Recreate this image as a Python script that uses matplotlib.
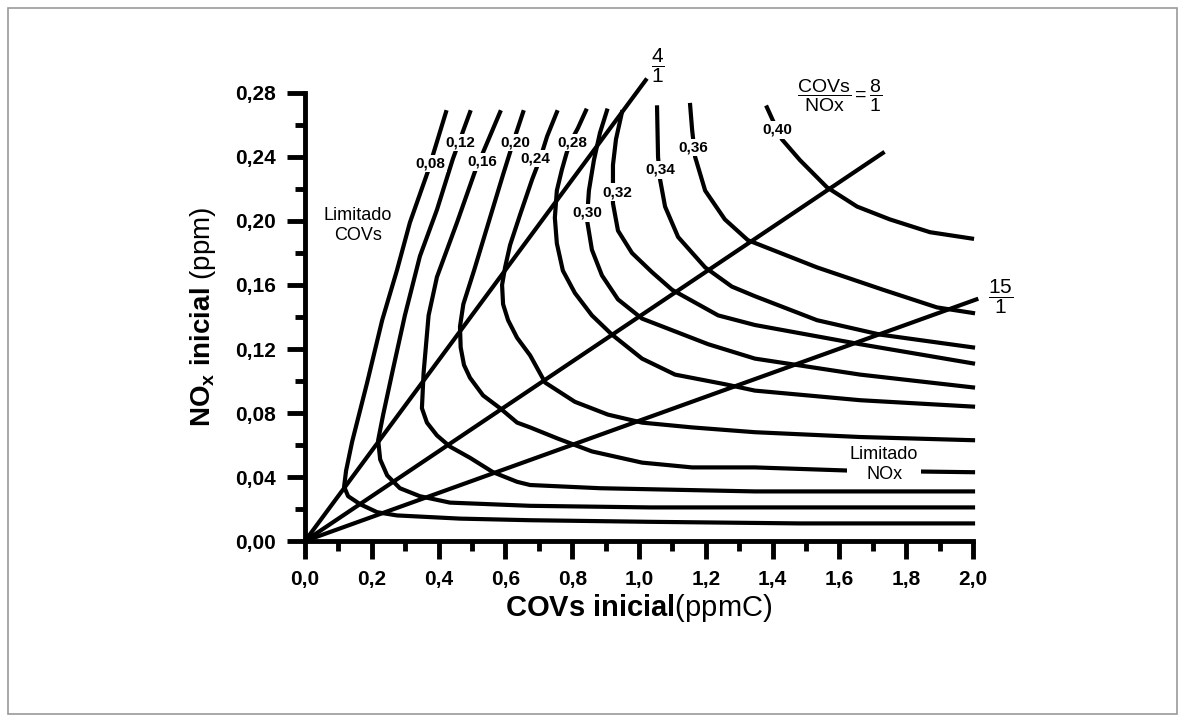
import matplotlib
matplotlib.use('Agg')
import matplotlib.pyplot as plt
from matplotlib.patches import Rectangle

plt.rcParams['font.family'] = ['Liberation Sans', 'DejaVu Sans']
plt.rcParams['mathtext.fontset'] = 'custom'
plt.rcParams['mathtext.rm'] = 'Liberation Sans'
plt.rcParams['mathtext.bf'] = 'Liberation Sans:bold'
plt.rcParams['mathtext.it'] = 'Liberation Sans:italic'

# ozone isopleths (COVs ppmC, NOx ppm)
covs_008 = [0.422, 0.368, 0.314, 0.275, 0.231, 0.186, 0.141, 0.123, 0.117, 0.129, 0.165, 0.216, 0.275, 0.464, 0.674, 1.033, 1.482, 2.000]
nox_008 = [0.268, 0.231, 0.199, 0.169, 0.138, 0.099, 0.062, 0.044, 0.034, 0.028, 0.023, 0.018, 0.016, 0.014, 0.013, 0.012, 0.011, 0.011]

covs_012 = [0.494, 0.443, 0.395, 0.344, 0.299, 0.263, 0.234, 0.219, 0.225, 0.246, 0.284, 0.344, 0.434, 0.674, 1.033, 2.000]
nox_012 = [0.268, 0.239, 0.207, 0.178, 0.141, 0.107, 0.079, 0.063, 0.051, 0.041, 0.033, 0.028, 0.024, 0.022, 0.021, 0.021]

covs_016 = [0.584, 0.509, 0.455, 0.395, 0.370, 0.355, 0.350, 0.365, 0.395, 0.434, 0.494, 0.563, 0.635, 0.674, 0.883, 1.347, 2.000]
nox_016 = [0.268, 0.231, 0.199, 0.165, 0.141, 0.105, 0.083, 0.074, 0.066, 0.059, 0.052, 0.043, 0.037, 0.035, 0.033, 0.031, 0.031]

covs_020 = [0.653, 0.626, 0.593, 0.548, 0.506, 0.474, 0.464, 0.466, 0.476, 0.494, 0.533, 0.584, 0.635, 0.674, 0.757, 0.859, 1.009, 1.159, 1.347, 1.632, 2.000]
nox_020 = [0.268, 0.251, 0.229, 0.198, 0.169, 0.148, 0.134, 0.121, 0.110, 0.102, 0.091, 0.083, 0.074, 0.071, 0.064, 0.056, 0.049, 0.046, 0.046, 0.044, 0.043]

covs_024 = [0.754, 0.725, 0.704, 0.680, 0.644, 0.614, 0.599, 0.590, 0.593, 0.608, 0.635, 0.674, 0.719, 0.808, 0.907, 1.009, 1.159, 1.347, 1.662, 2.000]
nox_024 = [0.268, 0.253, 0.239, 0.226, 0.204, 0.185, 0.171, 0.160, 0.148, 0.138, 0.127, 0.116, 0.099, 0.087, 0.079, 0.074, 0.071, 0.068, 0.065, 0.063]

covs_028 = [0.841, 0.817, 0.799, 0.784, 0.769, 0.754, 0.748, 0.754, 0.772, 0.808, 0.859, 0.919, 1.009, 1.108, 1.257, 1.347, 1.662, 2.000]
nox_028 = [0.269, 0.258, 0.251, 0.243, 0.232, 0.219, 0.202, 0.186, 0.169, 0.155, 0.141, 0.129, 0.114, 0.104, 0.098, 0.094, 0.088, 0.084]

covs_030 = [0.904, 0.883, 0.865, 0.850, 0.844, 0.859, 0.889, 0.937, 1.009, 1.108, 1.207, 1.347, 1.662, 2.000]
nox_030 = [0.269, 0.255, 0.238, 0.219, 0.201, 0.182, 0.166, 0.151, 0.139, 0.131, 0.123, 0.114, 0.104, 0.096]

covs_032 = [0.949, 0.931, 0.922, 0.922, 0.937, 0.979, 1.039, 1.099, 1.237, 1.347, 1.662, 2.000]
nox_032 = [0.268, 0.251, 0.235, 0.211, 0.194, 0.180, 0.168, 0.157, 0.141, 0.135, 0.123, 0.111]

covs_034 = [1.054, 1.057, 1.063, 1.078, 1.117, 1.198, 1.278, 1.347, 1.533, 1.722, 2.000]
nox_034 = [0.271, 0.240, 0.226, 0.209, 0.190, 0.171, 0.159, 0.153, 0.138, 0.129, 0.121]

covs_036 = [1.153, 1.159, 1.168, 1.198, 1.257, 1.326, 1.533, 1.731, 1.892, 2.000]
nox_036 = [0.2725, 0.257, 0.240, 0.219, 0.201, 0.188, 0.171, 0.157, 0.146, 0.1425]

covs_040 = [1.383, 1.407, 1.428, 1.482, 1.563, 1.653, 1.751, 1.871, 1.997]
nox_040 = [0.271, 0.260, 0.251, 0.238, 0.221, 0.209, 0.201, 0.193, 0.189]

iso_labels = ['0,08', '0,12', '0,16', '0,20', '0,24', '0,28', '0,30', '0,32', '0,34', '0,36', '0,40']

# COVs/NOx ratio lines from the origin (end points)
ratio_labels = ['4', '8', '15']
ratio_covs_end = [1.02, 1.73, 2.01]
ratio_nox_end = [0.288, 0.2425, 0.151]

xticks = [0.0, 0.2, 0.4, 0.6, 0.8, 1.0, 1.2, 1.4, 1.6, 1.8, 2.0]
xticklabels = ['0,0', '0,2', '0,4', '0,6', '0,8', '1,0', '1,2', '1,4', '1,6', '1,8', '2,0']
yticks = [0.00, 0.04, 0.08, 0.12, 0.16, 0.20, 0.24, 0.28]
yticklabels = ['0,00', '0,04', '0,08', '0,12', '0,16', '0,20', '0,24', '0,28']


def main():

    fig = plt.figure(figsize=(11.85, 7.23), dpi=100)
    ax = fig.add_axes([0.2574, 0.2517, 0.5637, 0.6197])

    fig.patches.append(Rectangle((0.007, 0.012), 0.986, 0.977, transform=fig.transFigure,
                                 fill=False, edgecolor='#9a9a9a', lw=1.2))

    curves = [(covs_008, nox_008), (covs_012, nox_012), (covs_016, nox_016),
              (covs_020, nox_020), (covs_024, nox_024), (covs_028, nox_028),
              (covs_030, nox_030), (covs_032, nox_032), (covs_034, nox_034),
              (covs_036, nox_036), (covs_040, nox_040)]

    for cx, cy in curves:
        ax.plot(cx, cy, color='k', lw=3, clip_on=False, solid_joinstyle='round', zorder=2)

    for xe, ye in zip(ratio_covs_end, ratio_nox_end):
        ax.plot([0, xe], [0, ye], color='k', lw=3, clip_on=False, zorder=2)

    # label positions (data coords) on the isopleths
    lab_pos = [(0.374, 0.236), (0.464, 0.249), (0.530, 0.237), (0.629, 0.249),
               (0.689, 0.239), (0.799, 0.249), (0.844, 0.205), (0.934, 0.218),
               (1.063, 0.232), (1.162, 0.246), (1.413, 0.257)]
    for lab, (lx, ly) in zip(iso_labels, lab_pos):
        ax.text(lx, ly, lab, fontsize=11, fontweight='bold', ha='center', va='center',
                family=['Liberation Sans Narrow', 'Liberation Sans'], zorder=3,
                bbox=dict(boxstyle='square,pad=0.12', fc='white', ec='none'))

    ax.text(1.057, 0.297, r'$\dfrac{%s}{1}$' % ratio_labels[0], fontsize=15,
            ha='center', va='center')
    ax.text(1.60, 0.278, r'$\dfrac{\mathrm{COVs}}{\mathrm{NOx}}=\dfrac{%s}{1}$' % ratio_labels[1],
            fontsize=14, ha='center', va='center')
    ax.text(2.083, 0.1525, r'$\dfrac{%s}{1}$' % ratio_labels[2], fontsize=15,
            ha='center', va='center')

    ax.text(0.159, 0.197, 'Limitado\nCOVs', fontsize=13, ha='center', va='center',
            linespacing=1.2)
    ax.text(1.734, 0.048, 'Limitado\nNOx', fontsize=13, ha='center', va='center',
            linespacing=1.2, zorder=3,
            bbox=dict(boxstyle='square,pad=0.15', fc='white', ec='none'))

    ax.set_xlim(0, 2.0)
    ax.set_ylim(0, 0.28)
    ax.set_xticks(xticks)
    ax.set_xticklabels(xticklabels, fontsize=15, fontweight='bold')
    ax.set_yticks(yticks)
    ax.set_yticklabels(yticklabels, fontsize=15, fontweight='bold')
    ax.set_xticks([0.1 + 0.2 * i for i in range(10)], minor=True)
    ax.set_yticks([0.02 + 0.04 * i for i in range(7)], minor=True)
    ax.tick_params(which='major', length=13, width=3.5, pad=8)
    ax.tick_params(which='minor', length=7, width=3.5)

    for s in ['top', 'right']:
        ax.spines[s].set_visible(False)
    for s in ['left', 'bottom']:
        ax.spines[s].set_linewidth(3.5)

    ax.set_xlabel(r'$\mathbf{COVs\ inicial}$(ppmC)', fontsize=21, labelpad=2)
    ax.set_ylabel(r'$\mathbf{NO_x\ inicial}$ (ppm)', fontsize=20, labelpad=12)

    fig.savefig('out.png', dpi=100)


if __name__ == '__main__':
    main()
